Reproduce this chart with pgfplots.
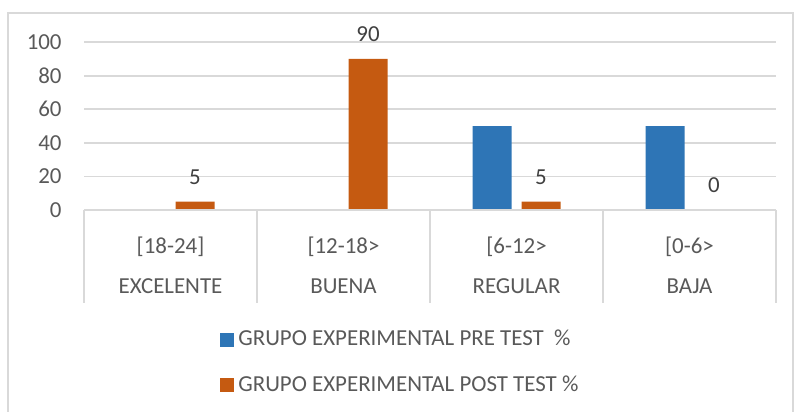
\documentclass[border=0pt]{standalone}
\usepackage{pgfplots}
\pgfplotsset{compat=1.18}
\usepackage{fontspec}
\setmainfont{Carlito}
\definecolor{preblue}{HTML}{2E75B6}
\definecolor{postorange}{HTML}{C55A11}
\definecolor{gridgray}{HTML}{D9D9D9}
\definecolor{txtgray}{HTML}{595959}
\newcommand{\chartfont}{\fontsize{11.5}{13.8}\selectfont}
\begin{document}
\begin{tikzpicture}
\path[use as bounding box] (0,0) rectangle (397bp,-206bp);
% outer chart frame
\draw[gridgray, line width=0.75bp] (4bp,-210bp) -- (4bp,-6.5bp) -- (396.5bp,-6.5bp) -- (396.5bp,-210bp);
\begin{axis}[
  at={(42bp,-105bp)}, anchor=south west,
  width=346bp, height=84bp, scale only axis,
  xmin=-0.5, xmax=3.5, ymin=0, ymax=100,
  clip=false,
  ybar=5bp, bar width=19.5bp,
  ytick={0,20,...,100},
  xtick={0,1,2,3},
  xticklabels={{[18-24]},{[12-18>},{[6-12>},{[0-6>}},
  extra x ticks={0,1,2,3},
  extra x tick labels={EXCELENTE,BUENA,REGULAR,BAJA},
  extra x tick style={xticklabel style={yshift=-20bp}},
  ymajorgrids, grid style={gridgray, line width=0.9bp},
  axis line style={draw=none},
  major tick length=0pt, tick style={draw=none},
  /pgf/number format/assume math mode=true,
  tick label style={font=\chartfont, text=txtgray, inner sep=0pt},
  yticklabel style={anchor=east, xshift=-11bp},
  xticklabel style={anchor=base, yshift=-21.5bp},
  legend style={at={(0.1965,-0.69)}, anchor=north west, draw=none, fill=none,
    font=\chartfont, text=txtgray, row sep=9.5bp, inner sep=0pt},
  legend cell align=left,
  legend image code/.code={\fill[#1] (0bp,-3.5bp) rectangle (7bp,3.5bp);},
]
\addplot[fill=preblue, draw=none] coordinates {(0,0) (1,0) (2,50) (3,50)};
\addplot[fill=postorange, draw=none, nodes near coords,
  nodes near coords style={font=\chartfont, text=black!75, inner sep=0pt, anchor=south, yshift=8.5bp}]
  coordinates {(0,5) (1,90) (2,5) (3,0)};
\legend{GRUPO EXPERIMENTAL PRE TEST \ \%, GRUPO EXPERIMENTAL POST TEST \%}
% base line and category separators below the axis
\draw[gridgray, line width=0.9bp] (axis cs:-0.5,0) -- (axis cs:3.5,0);
\pgfplotsinvokeforeach{-0.5,0.5,1.5,2.5,3.5}{
  \draw[gridgray, line width=0.9bp] (axis cs:#1,0) -- ++(0bp,-46.5bp);
}
\end{axis}
\end{tikzpicture}
\end{document}
